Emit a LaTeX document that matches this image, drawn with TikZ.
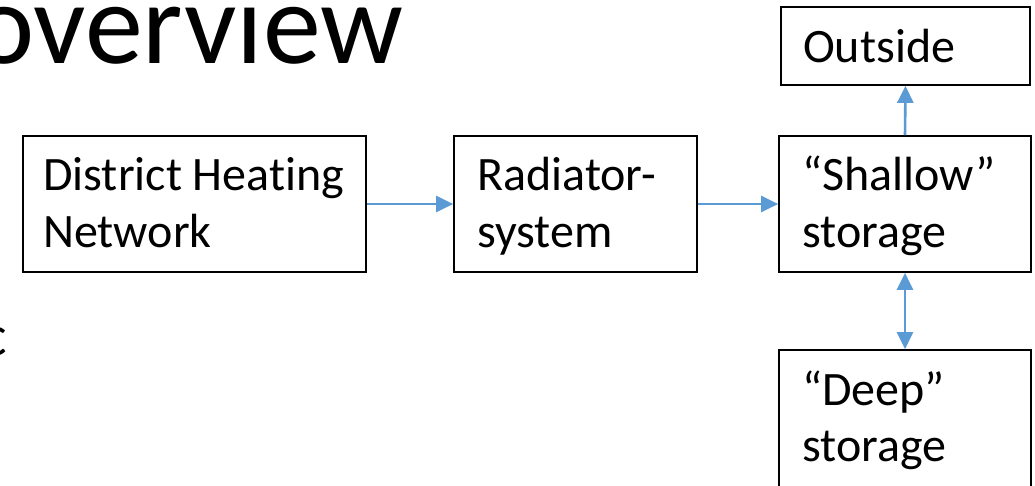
\documentclass[tikz,border=0pt]{standalone}
\usepackage{fontspec}
\setmainfont{Carlito}[Ligatures=NoCommon]
\usetikzlibrary{arrows.meta}
\definecolor{arrowblue}{RGB}{91,155,213}
\tikzset{
  box/.style={draw=black, line width=1.7pt, rectangle, inner sep=0pt},
  txt/.style={inner sep=0pt, anchor=base west, font=\fontsize{48}{57}\selectfont},
  arr/.style={draw=arrowblue, line width=2.6pt, -{Triangle[length=17pt,width=16pt]}},
  darr/.style={draw=arrowblue, line width=2.6pt, {Triangle[length=17pt,width=16pt]}-{Triangle[length=17pt,width=16pt]}}
}
\begin{document}
\begin{tikzpicture}[x=1pt,y=-1pt]
\useasboundingbox (0,0) rectangle (1035,485);
\clip (0,0) rectangle (1035,485);
\fill[white] (0,0) rectangle (1035,485);
% partial title and bullet
\node[inner sep=0pt, anchor=base west, font=\fontsize{116}{130}\selectfont] (title) at (-27,63) {overview};
\node[inner sep=0pt, anchor=base west, font=\fontsize{58}{70}\selectfont] (bul) at (-18,355) {c};
% boxes
\node[box, minimum width=343pt, minimum height=136pt] (dh) at (194.5,204) {};
\node[box, minimum width=243pt, minimum height=136pt] (rad) at (575.5,204) {};
\node[box, minimum width=252pt, minimum height=136pt] (sh) at (905,204) {};
\node[box, minimum width=249pt, minimum height=78pt] (out) at (905.5,46) {};
\node[box, minimum width=252pt, minimum height=150pt] (deep) at (905,425) {};
% texts
\node[txt] (dh1) at (43,190) {District Heating};
\node[txt] (dh2) at (43,247) {Network};
\node[txt] (rad1) at (477,190) {Radiator-};
\node[txt] (rad2) at (477,247) {system};
\node[txt] (sh1) at (802,190) {“Shallow”};
\node[txt] (sh2) at (802,247) {storage};
\node[txt] (out1) at (803,62) {Outside};
\node[txt] (deep1) at (802,405) {“Deep”};
\node[txt] (deep2) at (802,461) {storage};
% connectors
\draw[arr] (dh.east) -- (rad.west);
\draw[arr] (rad.east) -- (sh.west);
\draw[arr] (sh.north) -- (out.south);
\draw[darr] (sh.south) -- (deep.north);
\end{tikzpicture}
\end{document}
